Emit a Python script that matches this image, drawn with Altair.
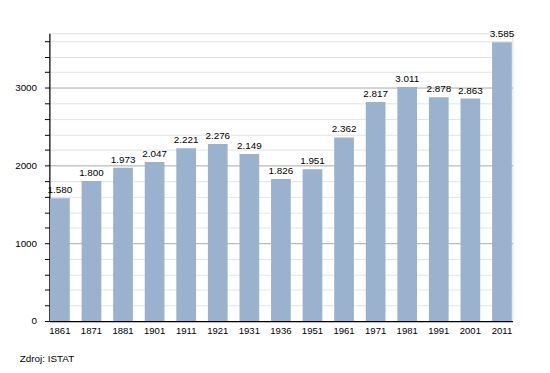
import altair as alt
import pandas as pd

years = ["1861", "1871", "1881", "1901", "1911", "1921", "1931", "1936",
         "1951", "1961", "1971", "1981", "1991", "2001", "2011"]
population = [1580, 1800, 1973, 2047, 2221, 2276, 2149, 1826,
              1951, 2362, 2817, 3011, 2878, 2863, 3585]
caption = "Zdroj: ISTAT"
y_ticks = list(range(0, 3800, 200))

df = pd.DataFrame({"year": years, "pop": population})

W, H = 470, 292
FONT = "Liberation Sans"
BAR = "#9bb2cf"

x_enc = alt.X("year:N", sort=years, title=None,
              scale=alt.Scale(paddingInner=0.375, paddingOuter=0.02),
              axis=alt.Axis(labelAngle=0, ticks=False, labelPadding=5,
                            labelFont=FONT, labelFontSize=9.7, labelColor="#000",
                            domainColor="#000", domainWidth=1.2))
y_enc = alt.Y("pop:Q", title=None,
              scale=alt.Scale(domain=[0, 3700], nice=False, zero=True),
              axis=alt.Axis(values=y_ticks, labelOverlap=False,
                            labelExpr="datum.value % 1000 === 0 ? format(datum.value, 'd') : ''",
                            labelFont=FONT, labelFontSize=10, labelColor="#000",
                            labelPadding=8, tickSize=5, tickColor="#000",
                            domainColor="#000", domainWidth=1.2,
                            grid=True,
                            gridColor={"condition": {"test": "datum.value % 1000 === 0", "value": "#a8a8a8"},
                                       "value": "#e3e3e3"}))

base = alt.Chart(df).transform_calculate(
    label="replace(format(datum.pop, ','), ',', '.')"
).encode(x=x_enc, y=y_enc)

bars = base.mark_bar(color=BAR)
labels = base.mark_text(baseline="bottom", dy=-3, font=FONT, fontSize=10, color="#000").encode(
    text="label:N")

cap = alt.Chart(pd.DataFrame({"t": [caption]})).mark_text(
    align="left", baseline="middle", font=FONT, fontSize=10, color="#000"
).encode(text="t:N", x=alt.value(-30), y=alt.value(H + 39))

chart = alt.layer(bars, labels, cap).properties(
    width=W, height=H,
    autosize=alt.AutoSizeParams(type="none"),
    padding={"left": 42, "top": 23, "right": 30, "bottom": 50},
).configure_view(stroke=None).configure(background="white")

chart.save("out.html", embed_options={"renderer": "svg", "actions": False})
